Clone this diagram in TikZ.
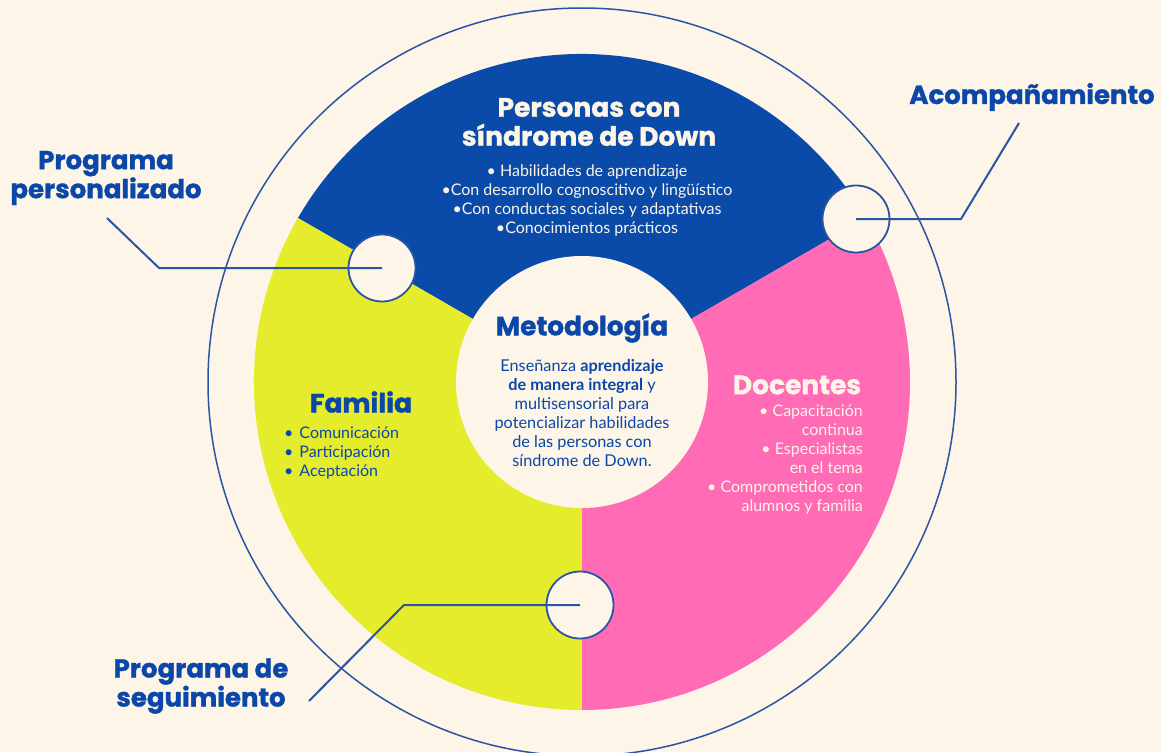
\documentclass[tikz,border=0pt]{standalone}
\usepackage{fontspec}
\setmainfont{Lato}
\newfontfamily\headfont{Poppins}[BoldFeatures={FakeBold=1.2}]
\definecolor{cream}{HTML}{FDF5E8}
\definecolor{dblue}{HTML}{0B47A8}
\definecolor{lineblue}{HTML}{2A55A5}
\definecolor{secblue}{HTML}{0A4AA8}
\definecolor{secyellow}{HTML}{E5EC2B}
\definecolor{secpink}{HTML}{FF6BB5}
\begin{document}
\begin{tikzpicture}[x=1pt,y=1pt,
  lbl/.style={font=\headfont\bfseries\fontsize{26}{29}\selectfont, text=dblue, align=center, inner sep=0pt},
  head/.style={font=\headfont\bfseries\fontsize{26.5}{29}\selectfont, align=center, inner sep=0pt},
  body/.style={font=\fontsize{16}{19}\selectfont, inner sep=0pt},
  conn/.style={draw=lineblue, line width=2pt},
  marker/.style={circle, draw=lineblue, line width=1.8pt, fill=cream, minimum size=67pt, inner sep=0pt}]
\useasboundingbox (0,0) rectangle (1161,-752);
\fill[cream] (0,0) rectangle (1161,-752);
\coordinate (c) at (582,-382);
% outer ring
\draw[lineblue, line width=1.5pt] (c) circle[radius=374];
% sectors
\fill[secblue] (c) -- ++(30:328) arc[start angle=30, end angle=150, radius=328] -- cycle;
\fill[secyellow] (c) -- ++(150:328) arc[start angle=150, end angle=270, radius=328] -- cycle;
\fill[secpink] (c) -- ++(270:328) arc[start angle=270, end angle=390, radius=328] -- cycle;
% centre circle
\node[circle, fill=cream, minimum size=252pt, inner sep=0pt] (mid) at (c) {};
% markers
\node[marker] (m1) at (382,-268) {};
\node[marker] (m2) at (856,-219) {};
\node[marker] (m3) at (580,-605) {};
% labels
\node[lbl] (l1) at (106,-178) {Programa\\personalizado};
\node[lbl] (l2) at (1032,-97) {Acompañamiento};
\node[lbl] (l3) at (201,-686) {Programa de\\seguimiento};
% connectors
\coordinate (b1) at (159,-268);
\coordinate (e1) at (107,-218);
\coordinate (b2) at (961,-219);
\coordinate (e2) at (1019,-123);
\coordinate (b3) at (404,-605);
\coordinate (e3) at (309,-701);
\draw[conn] (m1.center) -- (b1) -- (e1);
\draw[conn] (m2.center) -- (b2) -- (e2);
\draw[conn] (m3.center) -- (b3) -- (e3);
% sector texts
\node[head, text=cream] (h1) at (589,-122) {Personas con\\síndrome de Down};
\node[body, text=cream, align=center] (t1) at (587,-200) {• Habilidades de aprendizaje\\•Con desarrollo cognoscitivo y lingüístico\\•Con conductas sociales y adaptativas\\•Conocimientos prácticos};
\node[head, text=dblue] (h2) at (582,-328) {Metodología};
\node[body, text=dblue, align=center, font=\fontsize{16.3}{19}\selectfont] (t2) at (582,-413) {Enseñanza \textbf{aprendizaje}\\\textbf{de manera integral} y\\multisensorial para\\potencializar habilidades\\de las personas con\\síndrome de Down.};
\node[head, text=dblue] (h3) at (361,-402) {Familia};
\node[body, text=dblue, align=left, anchor=west] (t3) at (284,-453) {•\hspace{6pt}Comunicación\\•\hspace{6pt}Participación\\•\hspace{6pt}Aceptación};
\node[head, text=cream] (h4) at (797,-385) {Docentes};
\node[body, text=cream, align=right, anchor=east] (t4) at (863,-460) {• Capacitación\\continua\\• Especialistas\\en el tema\\• Comprometidos con\\alumnos y familia};
\end{tikzpicture}
\end{document}
